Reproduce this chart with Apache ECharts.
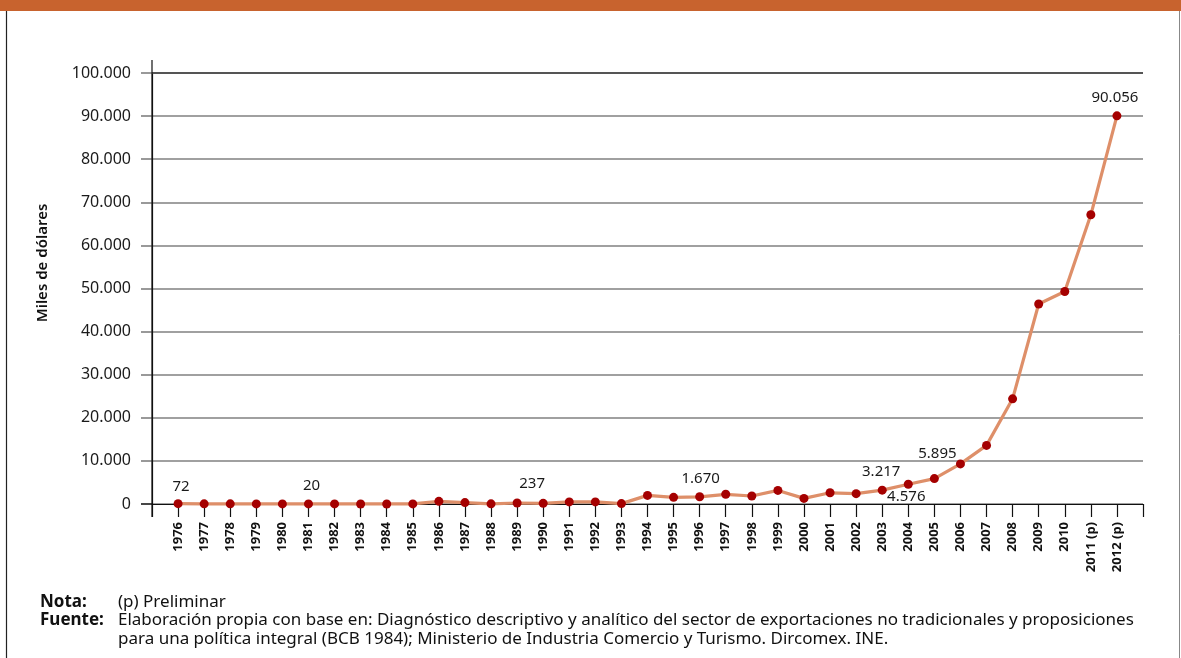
<!DOCTYPE html>
<html>
<head>
<meta charset="utf-8">
<script src="https://cdn.jsdelivr.net/npm/echarts@6/dist/echarts.min.js"></script>
<style>
  html, body { margin: 0; padding: 0; background: #fff; }
  #chart { width: 1181px; height: 658px; }
</style>
</head>
<body>
<div id="chart"></div>
<script>
// años y exportaciones (miles de dólares)
var years = [1976, 1977, 1978, 1979, 1980, 1981, 1982, 1983, 1984, 1985,
             1986, 1987, 1988, 1989, 1990, 1991, 1992, 1993, 1994, 1995,
             1996, 1997, 1998, 1999, 2000, 2001, 2002, 2003, 2004, 2005,
             2006, 2007, 2008, 2009, 2010, 2011, 2012];
var values = [72, 40, 30, 25, 20, 20, 15, 10, 10, 15,
              620, 320, 30, 237, 150, 480, 480, 90, 2000, 1550,
              1670, 2250, 1850, 3150, 1300, 2600, 2400, 3217, 4576, 5895,
              9300, 13600, 24400, 46400, 49300, 67100, 90056];
var preliminar = [2011, 2012];
var labeledYears = [1976, 1981, 1989, 1996, 2003, 2004, 2005, 2012];
var yTicks = { min: 0, max: 100000, step: 10000 };

// posicion de las etiquetas (solo estilo)
var labelPlace = {
    1976: { position: 'top', offset: [3, 1] },
    1981: { position: 'top', offset: [3, 0] },
    1989: { position: 'top', offset: [15, -1] },
    1996: { position: 'top', offset: [1, 0] },
    2003: { position: 'top', offset: [-1, 0] },
    2004: { position: 'bottom', offset: [-2, -6] },
    2005: { position: 'top', offset: [3, -7] },
    2012: { position: 'top', offset: [-2, 0] }
};

var chart = echarts.init(document.getElementById('chart'));

var gridLeft = 152, gridTop = 73, gridRight = 38, gridBottom = 154;
var W = 1181, H = 658;

function fmt(v) {
    return String(v).replace(/\B(?=(\d{3})+(?!\d))/g, '.');
}

var seriesData = years.map(function (y, i) {
    var item = { value: [y, values[i]] };
    if (labeledYears.indexOf(y) >= 0) {
        var p = labelPlace[y];
        item.label = {
            show: true,
            position: p.position,
            offset: p.offset,
            distance: 6,
            formatter: fmt(values[i]),
            color: '#1a1a1a',
            fontSize: 15,
            fontFamily: 'Noto Sans'
        };
    }
    return item;
});

var noteFont = '17px "Noto Sans"';
var noteBold = 'bold 17px "Noto Sans"';

chart.setOption({
    backgroundColor: '#fff',
    animation: false,
    grid: { left: gridLeft, top: gridTop, right: gridRight, bottom: gridBottom },
    xAxis: {
        type: 'value',
        min: years[0] - 1,
        max: years[years.length - 1] + 1,
        interval: 1,
        axisLine: { show: true, lineStyle: { color: '#111', width: 1.2 } },
        axisTick: { show: true, length: 13, lineStyle: { color: '#111', width: 1.2 } },
        splitLine: { show: false },
        axisLabel: {
            rotate: 90,
            margin: 18,
            color: '#111',
            fontSize: 13,
            fontWeight: 'bold',
            fontFamily: 'Noto Sans',
            formatter: function (v) {
                if (years.indexOf(v) < 0) return '';
                return preliminar.indexOf(v) >= 0 ? v + ' (p)' : String(v);
            }
        }
    },
    yAxis: {
        type: 'value',
        min: yTicks.min,
        max: yTicks.max,
        interval: yTicks.step,
        axisLine: { show: true, lineStyle: { color: '#111', width: 1.2 } },
        axisTick: { show: true, length: 11, lineStyle: { color: '#999', width: 2 } },
        splitLine: { show: true, lineStyle: { color: '#a0a0a0', width: 2 } },
        axisLabel: {
            margin: 21,
            color: '#1a1a1a',
            fontSize: 16,
            fontFamily: 'Noto Sans',
            formatter: function (v) { return fmt(v); }
        }
    },
    series: [{
        type: 'line',
        data: seriesData,
        symbol: 'circle',
        symbolSize: 9,
        clip: false,
        itemStyle: { color: '#a50000' },
        lineStyle: { color: '#de8f69', width: 3.2 },
        z: 5,
        markLine: {
            silent: true,
            symbol: 'none',
            label: { show: false },
            lineStyle: { color: '#555', width: 2, type: 'solid' },
            data: [{ yAxis: yTicks.max }]
        }
    }],
    graphic: [
        { type: 'rect', shape: { x: 0, y: 0, width: W, height: 11 }, style: { fill: '#c8632e' }, silent: true },
        { type: 'line', shape: { x1: 6.5, y1: 11, x2: 6.5, y2: H }, style: { stroke: '#222', lineWidth: 1.2 }, silent: true },
        { type: 'line', shape: { x1: 1179.5, y1: 11, x2: 1179.5, y2: H }, style: { stroke: '#888', lineWidth: 1 }, silent: true },
        // prolongacion del eje vertical
        { type: 'line', shape: { x1: gridLeft, y1: gridTop - 13, x2: gridLeft, y2: H - gridBottom + 13 }, style: { stroke: '#111', lineWidth: 1.2 }, silent: true, z: 10 },
        { type: 'line', shape: { x1: gridLeft - 11, y1: H - gridBottom, x2: gridLeft, y2: H - gridBottom }, style: { stroke: '#111', lineWidth: 1.2 }, silent: true, z: 10 },
        {
            type: 'text', x: 43, y: 263, rotation: Math.PI / 2,
            style: { text: 'Miles de dólares', font: '600 15px "Noto Sans"', fill: '#111', align: 'center', verticalAlign: 'middle' },
            silent: true
        },
        { type: 'text', x: 40, y: 602, style: { text: 'Nota:', font: noteBold, fill: '#111', verticalAlign: 'middle' }, silent: true },
        { type: 'text', x: 118, y: 602, style: { text: '(p) Preliminar', font: noteFont, fill: '#111', verticalAlign: 'middle' }, silent: true },
        { type: 'text', x: 40, y: 620, style: { text: 'Fuente:', font: noteBold, fill: '#111', verticalAlign: 'middle' }, silent: true },
        { type: 'text', x: 118, y: 620, style: { text: 'Elaboración propia con base en: Diagnóstico descriptivo y analítico del sector de exportaciones no tradicionales y proposiciones', font: noteFont, fill: '#111', verticalAlign: 'middle' }, silent: true },
        { type: 'text', x: 118, y: 639, style: { text: 'para una política integral (BCB 1984); Ministerio de Industria Comercio y Turismo. Dircomex. INE.', font: noteFont, fill: '#111', verticalAlign: 'middle' }, silent: true }
    ]
});
</script>
</body>
</html>
